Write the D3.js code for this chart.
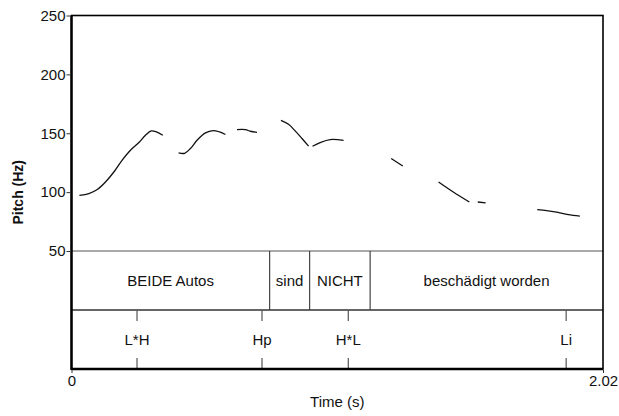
<!DOCTYPE html>
<html>
<head>
<meta charset="utf-8">
<script src="https://cdn.jsdelivr.net/npm/d3@7"></script>
<style>
  body { margin: 0; background: #fff; }
  text { font-family: "Liberation Sans", Arial, Helvetica, sans-serif; }
</style>
</head>
<body>
<div id="chart"></div>
<script>
// pitch track (s, Hz); NaN marks an unvoiced gap
const pitchTime = [0.030, 0.066, 0.098, 0.129, 0.161, 0.192, 0.224, 0.256, 0.281, 0.303, 0.323, 0.347, NaN,
  0.407, 0.430, 0.452, 0.477, 0.509, 0.538, 0.563, 0.585, NaN,
  0.629, 0.661, 0.680, 0.705, NaN,
  0.796, 0.825, 0.850, 0.876, 0.901, NaN,
  0.916, 0.945, 0.983, 1.034, NaN,
  1.215, 1.259, NaN,
  1.395, 1.451, 1.512, NaN,
  1.544, 1.574, NaN,
  1.770, 1.806, 1.844, 1.888, 1.932];
const pitchHz = [97.3, 98.8, 102.2, 108.6, 117.1, 127.0, 135.6, 142.1, 148.3, 152.0, 151.1, 148.3, NaN,
  133.3, 133.0, 137.0, 144.0, 150.3, 152.3, 151.1, 148.9, NaN,
  153.1, 153.1, 151.7, 150.8, NaN,
  161.0, 157.6, 152.0, 145.5, 139.0, NaN,
  139.0, 142.1, 144.6, 144.0, NaN,
  128.5, 122.2, NaN,
  108.6, 100.1, 91.6, NaN,
  91.6, 90.8, NaN,
  85.2, 84.3, 83.1, 80.9, 79.7];

// word tier: interval labels and boundaries (s)
const wordLabels = ["BEIDE Autos", "sind", "NICHT", "beschädigt worden"];
const wordBounds = [0, 0.753, 0.905, 1.135, 2.02];

// tone tier: point labels and times (s)
const toneLabels = ["L*H", "Hp", "H*L", "Li"];
const toneTimes = [0.249, 0.724, 1.052, 1.880];

const pitchTicks = [50, 100, 150, 200, 250];
const timeTicks = [0, 2.02];

const W = 619, H = 416;
const m = { left: 71.5, right: 603, top: 15.5, pitch: 251, tier: 310, bottom: 369 };

const svg = d3.select("#chart").append("svg")
  .attr("width", W)
  .attr("height", H);

const x = d3.scaleLinear().domain([0, 2.02]).range([m.left, m.right]);
const y = d3.scaleLinear().domain([50, 250]).range([m.pitch, m.top]);

// tier lines
svg.append("line")
  .attr("x1", m.left).attr("x2", m.right).attr("y1", m.pitch).attr("y2", m.pitch)
  .attr("stroke", "#555").attr("stroke-width", 1.2);
svg.append("line")
  .attr("x1", m.left).attr("x2", m.right).attr("y1", m.tier).attr("y2", m.tier)
  .attr("stroke", "#333").attr("stroke-width", 1.5);

// word boundaries
svg.selectAll(".wb")
  .data(wordBounds.slice(1, -1))
  .enter().append("line")
  .attr("class", "wb")
  .attr("x1", d => x(d)).attr("x2", d => x(d))
  .attr("y1", m.pitch).attr("y2", m.tier)
  .attr("stroke", "#444").attr("stroke-width", 1.2);

svg.selectAll(".wl")
  .data(wordLabels)
  .enter().append("text")
  .attr("class", "wl")
  .attr("x", (d, i) => (x(wordBounds[i]) + x(wordBounds[i + 1])) / 2)
  .attr("y", (m.pitch + m.tier) / 2)
  .attr("dy", "0.35em")
  .attr("text-anchor", "middle")
  .attr("font-size", 15)
  .attr("fill", "#111")
  .text(d => d);

// tone points
const tone = svg.selectAll(".tone")
  .data(toneTimes)
  .enter().append("g")
  .attr("class", "tone");
tone.append("line")
  .attr("x1", d => x(d)).attr("x2", d => x(d))
  .attr("y1", m.tier).attr("y2", m.tier + 11)
  .attr("stroke", "#555").attr("stroke-width", 1.2);
tone.append("line")
  .attr("x1", d => x(d)).attr("x2", d => x(d))
  .attr("y1", m.bottom - 11).attr("y2", m.bottom)
  .attr("stroke", "#555").attr("stroke-width", 1.2);
tone.append("text")
  .attr("x", d => x(d))
  .attr("y", (m.tier + m.bottom) / 2)
  .attr("dy", "0.35em")
  .attr("text-anchor", "middle")
  .attr("font-size", 15)
  .attr("fill", "#111")
  .text((d, i) => toneLabels[i]);

// pitch contour
const line = d3.line()
  .defined(d => !isNaN(d.hz))
  .curve(d3.curveCatmullRom)
  .x(d => x(d.t))
  .y(d => y(d.hz));

svg.append("path")
  .attr("d", line(pitchTime.map((t, i) => ({ t: t, hz: pitchHz[i] }))))
  .attr("fill", "none")
  .attr("stroke", "#111")
  .attr("stroke-width", 1.3);

// frame
svg.append("rect")
  .attr("x", m.left).attr("y", m.top)
  .attr("width", m.right - m.left).attr("height", m.bottom - m.top)
  .attr("fill", "none")
  .attr("stroke", "#000")
  .attr("stroke-width", 1.6);
svg.append("line")
  .attr("x1", m.left).attr("x2", m.left).attr("y1", m.top).attr("y2", m.bottom + 1)
  .attr("stroke", "#000").attr("stroke-width", 2.4);
svg.append("line")
  .attr("x1", m.left).attr("x2", m.right).attr("y1", m.bottom).attr("y2", m.bottom)
  .attr("stroke", "#000").attr("stroke-width", 2.4);

// axes
const yAxis = svg.append("g")
  .attr("transform", `translate(${m.left - 1},0)`)
  .call(d3.axisLeft(y).tickValues(pitchTicks).tickSize(4).tickPadding(1));
yAxis.select(".domain").remove();
yAxis.selectAll("text").attr("font-size", 15).attr("fill", "#111")
  .attr("font-family", "Liberation Sans, Arial, sans-serif");
yAxis.selectAll("line").attr("stroke", "#333");

const xAxis = svg.append("g")
  .attr("transform", `translate(0,${m.bottom + 1})`)
  .call(d3.axisBottom(x).tickValues(timeTicks).tickSize(3).tickPadding(2)
    .tickFormat(d => d === 0 ? "0" : d3.format(".2f")(d)));
xAxis.select(".domain").remove();
xAxis.selectAll("text").attr("font-size", 15).attr("fill", "#111")
  .attr("font-family", "Liberation Sans, Arial, sans-serif");
xAxis.selectAll("line").attr("stroke", "#333");

// axis titles
svg.append("text")
  .attr("x", (m.left + m.right) / 2)
  .attr("y", 402)
  .attr("dy", "0.35em")
  .attr("text-anchor", "middle")
  .attr("font-size", 15)
  .attr("fill", "#111")
  .text("Time (s)");

svg.append("text")
  .attr("transform", `translate(18,${(m.top + m.bottom) / 2}) rotate(-90)`)
  .attr("dy", "0.35em")
  .attr("text-anchor", "middle")
  .attr("font-size", 14)
  .attr("font-weight", "bold")
  .attr("fill", "#111")
  .text("Pitch (Hz)");
</script>
</body>
</html>
